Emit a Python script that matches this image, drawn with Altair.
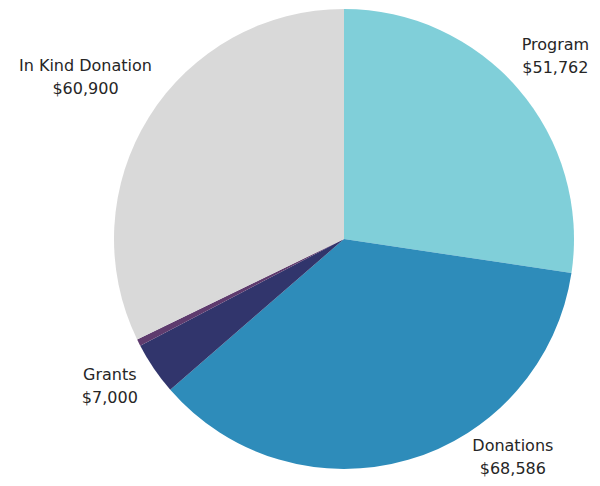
import altair as alt
import pandas as pd

categories = ["Program", "Donations", "Grants", "Other", "In Kind Donation"]
values = [51762, 68586, 7000, 900, 60900]
colors = ["#80CFD9", "#2E8CBA", "#31356C", "#5E3B6E", "#D9D9D9"]
show_label = [True, True, True, False, True]
label_radius = [279, 276, 277, 0, 305]
label_angle_shift = [0, -21.5, 2, 0, 0]

df = pd.DataFrame({"category": categories, "value": values, "idx": range(len(categories))})

total = sum(values)
cum = 0
rows = []
for c, v, s, r, sh in zip(categories, values, show_label, label_radius, label_angle_shift):
    mid = (cum + v / 2) / total * 360
    cum += v
    if s:
        rows.append({"label": f"{c}\n${v:,}", "angle": mid + sh, "r": r})
labels = pd.DataFrame(rows)

cx, cy = 336, 231

pie = alt.Chart(df).mark_arc(radius=230, stroke=None).encode(
    theta=alt.Theta("value:Q", stack=True),
    order=alt.Order("idx:Q"),
    color=alt.Color("category:N", scale=alt.Scale(domain=categories, range=colors), legend=None),
    x=alt.value(cx),
    y=alt.value(cy),
)

text = alt.Chart(labels).mark_text(
    lineBreak="\n", font="DejaVu Sans", fontSize=16, lineHeight=23, color="#262626",
    align="center", baseline="middle", dy=-11.5,
).encode(
    theta=alt.Theta("angle:Q", stack=None, scale=alt.Scale(domain=[0, 360])),
    radius=alt.Radius("r:Q", scale=None),
    text="label:N",
    x=alt.value(cx),
    y=alt.value(cy),
)

chart = alt.layer(pie, text).resolve_scale(theta="independent").properties(
    width=584, height=470, autosize=alt.AutoSizeParams(type="none"), padding=0,
    background="white",
).configure_view(stroke=None)

chart.save("out.html", embed_options={"renderer": "svg", "actions": False})
